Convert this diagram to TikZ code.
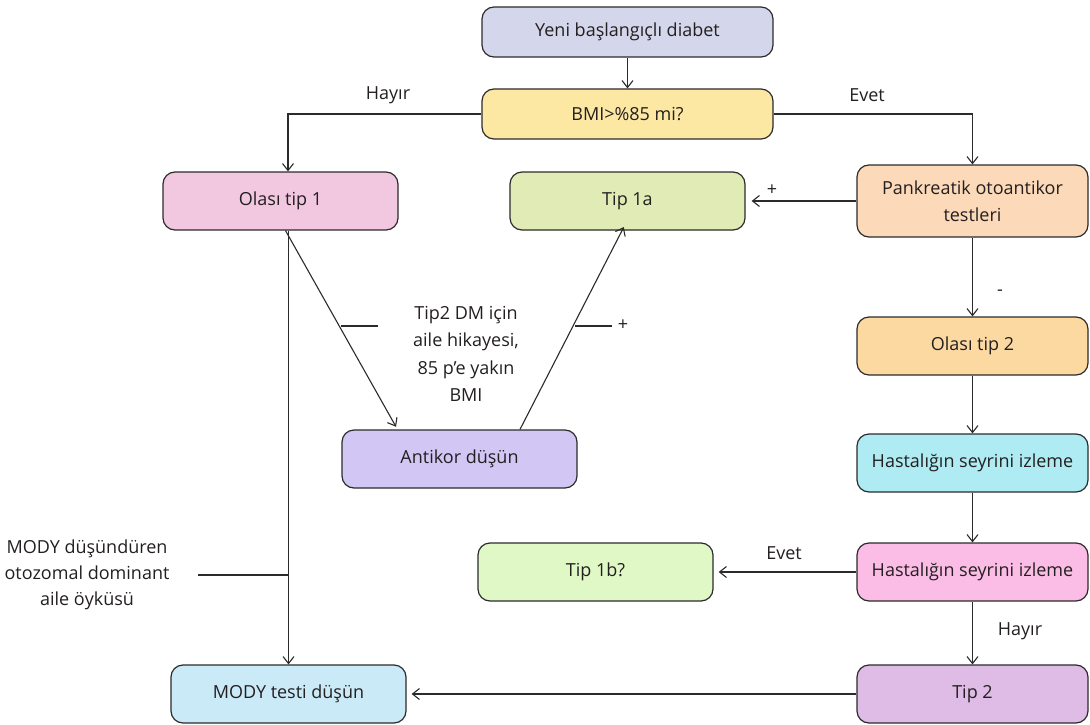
\documentclass[tikz,border=0pt]{standalone}
\usepackage{fontspec}
\setmainfont{Open Sans}
\usetikzlibrary{arrows.meta}
\definecolor{linec}{HTML}{2B2B2B}
\definecolor{txt}{HTML}{231F20}
\definecolor{cYeni}{HTML}{D4D7EB}
\definecolor{cBMI}{HTML}{FDE8A3}
\definecolor{cOtA}{HTML}{F2C7E0}
\definecolor{cTa}{HTML}{E1EBB6}
\definecolor{cPank}{HTML}{FCDAB9}
\definecolor{cOtB}{HTML}{FDD9A2}
\definecolor{cHc}{HTML}{AEEBF2}
\definecolor{cAnt}{HTML}{D2C6F4}
\definecolor{cTb}{HTML}{E0F8C6}
\definecolor{cHp}{HTML}{FBBDE5}
\definecolor{cMody}{HTML}{CAEAF7}
\definecolor{cTtwo}{HTML}{DEBCE5}
\begin{document}
\begin{tikzpicture}[x=1pt,y=-1pt,
  box/.style={draw=linec, line width=1.2pt, rounded corners=12pt, minimum width=235pt, minimum height=58pt, inner sep=0pt, align=center, font=\fontsize{18}{26}\selectfont, text=txt},
  conn/.style={draw=linec, line width=1.1pt, -{Straight Barb[length=7pt,width=11pt,line width=1.1pt]}},
  plain/.style={draw=linec, line width=1.1pt},
  lbl/.style={font=\fontsize{18}{27}\selectfont, text=txt, align=center, inner sep=0pt}]
\useasboundingbox (0,0) rectangle (1090,725);

% boxes
\node[box, fill=cYeni, minimum width=291pt, minimum height=50pt] (yeni) at (627.5,32) {Yeni başlangıçlı diabet};
\node[box, fill=cBMI, minimum width=291pt, minimum height=50pt] (bmi) at (627.5,114) {BMI>\%85 mi?};
\node[box, fill=cOtA] (ot1) at (280.5,201) {Olası tip 1};
\node[box, fill=cTa] (t1a) at (627.5,201) {Tip 1a};
\node[box, fill=cPank, minimum width=231pt, minimum height=72pt, font=\fontsize{18}{27}\selectfont] (pank) at (972.5,201) {Pankreatik otoantikor\\testleri};
\node[box, fill=cOtB, minimum width=231pt] (ot2) at (972.5,346) {Olası tip 2};
\node[box, fill=cHc, minimum width=231pt] (hc) at (972.5,463) {Hastalığın seyrini izleme};
\node[box, fill=cAnt] (ant) at (459.5,459) {Antikor düşün};
\node[box, fill=cTb] (t1b) at (595.5,572) {Tip 1b?};
\node[box, fill=cHp, minimum width=231pt] (hp) at (972.5,572) {Hastalığın seyrini izleme};
\node[box, fill=cMody] (mody) at (288.5,694) {MODY testi düşün};
\node[box, fill=cTtwo, minimum width=231pt] (t2) at (972.5,694) {Tip 2};

% main connectors
\draw[conn] (yeni) -- (bmi);
\draw[conn] (bmi.west) -| ([xshift=7.5pt]ot1.north);
\node[lbl] (hayir1) at (388,95) {Hayır};
\draw[conn] (bmi.east) -| (pank.north);
\node[lbl] (evet1) at (867,95) {Evet};
\draw[conn, shorten >=6pt] (pank.west) -- (t1a.east);
\node[lbl] (plus1) at (772,190) {+};
\draw[conn] (pank) -- (ot2);
\node[lbl] (minus1) at (1000,293) {-};
\draw[conn] (ot2) -- (hc);
\draw[conn] (hc) -- (hp);
\draw[conn, shorten >=5pt] (hp.west) -- (t1b.east);
\node[lbl] (evet2) at (784,553) {Evet};
\draw[conn] (hp) -- (t2);
\node[lbl] (hayir2) at (1020,631) {Hayır};
\draw[conn, shorten >=5pt] (t2.west) -- (mody.east);

% left vertical to MODY
\draw[conn] (ot1.south -| mody.north) -- (mody.north);
\coordinate (tkA) at (198,575);
\draw[plain] (tkA) -- (tkA -| mody.north);
\node[lbl, font=\fontsize{18}{26}\selectfont] (modylbl) at (87,575) {MODY düşündüren\\otozomal dominant\\aile öyküsü};

% diagonal to Antikor
\draw[conn, shorten >=3pt] ([xshift=5pt]ot1.south) -- ([xshift=-62pt]ant.north);
\coordinate (tkB) at (341,326);
\coordinate (tkBe) at (378,326);
\draw[plain] (tkB) -- (tkBe);
\node[lbl, font=\fontsize{18}{27.3}\selectfont] (tiplbl) at (466,354) {Tip2 DM için\\aile hikayesi,\\85 p'e yakın\\BMI};

% diagonal to Tip 1a
\draw[conn, shorten >=-4pt] ([xshift=60.5pt]ant.north) -- ([xshift=-5.5pt]t1a.south);
\coordinate (tkC) at (575,326);
\coordinate (tkCe) at (612,326);
\draw[plain] (tkC) -- (tkCe);
\node[lbl] (plus2) at (623,325) {+};
\end{tikzpicture}
\end{document}
